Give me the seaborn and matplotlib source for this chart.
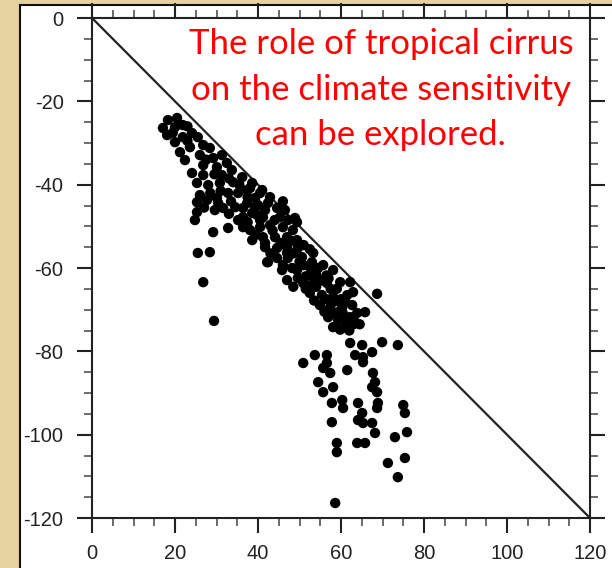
import matplotlib
matplotlib.use("Agg")
import matplotlib.pyplot as plt
import seaborn as sns
import pandas as pd
from matplotlib.ticker import MultipleLocator
from matplotlib.patches import Rectangle

# ---- data ----
x_vals = [
    17.1, 18.3, 20.5, 18.1, 20.0, 21.9, 20.0, 21.9, 24.1, 25.5, 21.2, 23.6, 26.8, 28.4, 22.4,
    26.0, 29.2, 31.3, 26.8, 30.1, 32.5, 24.1, 26.8, 31.3, 33.7, 25.3, 28.0, 30.8, 34.0,
    36.2, 38.6, 25.3, 27.7, 30.1, 32.8, 35.2, 37.4, 40.5, 24.8, 25.3, 29.6, 31.6, 30.4, 34.5,
    36.4, 39.3, 35.2, 36.4, 38.6, 40.5, 41.7, 29.2, 32.8, 38.6, 41.7, 25.5, 28.4, 26.8, 29.4, 42.2,
    37.4, 40.0, 42.4, 44.6, 36.4, 39.8, 41.2, 45.3, 47.2, 49.4, 38.1, 40.5, 42.9, 46.0, 48.4,
    41.2, 44.1, 47.0, 49.4, 41.7, 44.6, 47.0, 49.6, 42.4, 44.6, 47.2, 50.6, 45.8, 48.2, 50.9,
    53.0, 47.0, 49.6, 52.5, 53.7,
    47.0, 53.3, 46.0, 49.4, 52.5, 55.7, 58.1, 50.9, 56.6, 59.8, 62.2, 52.5, 55.4, 58.1, 61.5,
    62.9, 54.9, 57.4, 60.3, 62.7, 56.9, 59.3, 62.2, 63.9, 58.1, 61.0, 63.4, 65.8, 68.7,
    38.1, 39.3, 41.0, 42.9, 46.5, 48.9,
    54.0, 56.5, 51.5, 54.0, 57.5, 60.0, 53.5, 56.0, 59.5, 61.5, 59.8, 63.0, 48.5,
    33.0, 35.5, 37.5, 33.5, 31.0, 28.5, 27.0, 26.0, 33.0, 37.5, 39.5, 43.5, 45.5, 43.0, 48.5,
    51.0, 50.0, 51.5, 54.5, 55.5, 53.0, 57.0, 59.0, 56.5, 58.5, 61.0, 60.5, 58.0, 62.0, 64.5,
    46.0, 44.0, 48.0, 52.5, 23.0, 19.5, 23.0, 27.5, 29.5,
    62.2, 65.1, 63.4, 65.3, 67.5, 65.3, 69.9, 73.7, 50.9, 53.7, 56.6, 56.6, 55.7, 57.4, 61.5,
    54.5, 55.7, 58.1, 67.7, 68.2, 67.5, 68.7, 57.8, 60.3, 60.5, 64.1, 68.9, 68.7, 75.0, 75.4,
    65.1, 57.8, 64.1, 65.3, 67.5, 68.2, 75.9, 73.0, 59.0, 59.0, 63.9, 65.8, 71.3, 75.4, 73.7,
    58.6,
]
y_vals = [
    -26.4, -24.5, -24.0, -28.1, -26.2, -25.7, -29.8, -28.6, -27.6, -28.6, -32.2, -31.0, -30.5, -31.2, -34.1,
    -32.9, -33.6, -32.9, -35.3, -35.8, -34.8, -37.2, -37.7, -37.7, -36.5, -39.6, -40.1, -39.6, -39.4,
    -38.2, -39.6, -44.2, -43.7, -43.2, -42.0, -42.0, -41.3, -42.0, -48.5, -46.6, -46.1, -45.6, -44.4, -45.4,
    -45.6, -45.4, -48.5, -50.2, -46.8, -48.5, -46.1, -51.4, -50.4, -53.3, -54.0, -56.4, -56.2, -63.4, -72.7, -58.6,
    -44.4, -44.9, -44.4, -45.6, -47.8, -47.3, -47.8, -47.8, -48.5, -49.0, -50.9, -50.2, -49.7, -50.2, -50.9,
    -52.6, -52.6, -52.6, -53.3, -55.0, -55.2, -55.0, -55.2, -58.6, -57.6, -57.6, -57.4, -60.5, -60.0, -59.3,
    -58.6, -62.9, -62.4, -61.7, -62.9,
    -56.4, -56.4, -59.3, -60.5, -59.8, -59.3, -60.5, -63.6, -63.6, -63.4, -63.4, -66.0, -66.5, -67.0, -66.5,
    -65.8, -68.9, -69.4, -69.4, -68.9, -71.8, -72.5, -71.8, -70.8, -74.2, -74.2, -73.0, -70.6, -66.2,
    -40.8, -43.2, -41.3, -43.0, -46.1, -48.0,
    -61.5, -61.8, -65.0, -64.5, -65.0, -67.5, -67.8, -70.5, -70.5, -72.8, -74.8, -73.5, -64.5,
    -38.5, -40.0, -43.0, -44.0, -41.5, -42.0, -45.5, -42.5, -47.0, -49.0, -52.0, -51.0, -54.0, -56.5, -56.5,
    -54.5, -58.5, -62.0, -60.0, -63.0, -64.0, -62.5, -65.0, -67.5, -68.0, -68.0, -71.0, -70.8, -75.0, -73.5,
    -44.0, -48.5, -53.5, -55.5, -29.5, -27.5, -26.0, -34.0, -37.5,
    -78.0, -78.5, -80.9, -81.4, -80.2, -82.6, -77.8, -78.5, -82.8, -80.9, -80.9, -82.8, -84.0, -85.2, -84.5,
    -87.4, -89.8, -88.6, -85.2, -87.4, -88.6, -89.8, -92.4, -91.7, -93.6, -92.4, -92.4, -93.6, -92.9, -94.8,
    -94.8, -97.0, -96.5, -97.2, -97.2, -99.6, -99.4, -100.6, -102.0, -104.2, -102.0, -102.0, -106.8, -105.6, -110.2,
    -116.4,
]
ref_x = [0, 120]
ref_y = [0, -120]
x_ticks = [0, 20, 40, 60, 80, 100, 120]
y_ticks = [0, -20, -40, -60, -80, -100, -120]
annotation = "The role of tropical cirrus\non the climate sensitivity\ncan be explored."

df = pd.DataFrame({"x": x_vals, "y": y_vals})

sns.set_style("ticks")
plt.rcParams["font.family"] = ["Liberation Sans", "DejaVu Sans"]
plt.rcParams["axes.unicode_minus"] = False

W, H = 612, 568
fig = plt.figure(figsize=(W / 100, H / 100), dpi=100)
fig.patch.set_facecolor("#e6d1a0")

# white slide panel, behind the axes
panel = Rectangle((20 / W, -0.02), 1.0, (H - 5) / H + 0.02, transform=fig.transFigure,
                  facecolor="white", edgecolor="#111111", linewidth=1.5, zorder=-10)
fig.add_artist(panel)

ax = fig.add_axes([92 / W, 1 - 518 / H, (590 - 92) / W, (518 - 18) / H])
ax.set_zorder(5)
ax.set_facecolor("white")

ax.plot(ref_x, ref_y, color="#222222", linewidth=1.6, zorder=2)
sns.scatterplot(data=df, x="x", y="y", ax=ax, color="black", s=56, linewidth=0,
                edgecolor="none", zorder=3, legend=False)

ax.set_xlim(0, 120)
ax.set_ylim(-120, 0)
ax.set_xticks(x_ticks)
ax.set_yticks(y_ticks)
ax.xaxis.set_minor_locator(MultipleLocator(5))
ax.yaxis.set_minor_locator(MultipleLocator(5))
ax.set_xlabel("")
ax.set_ylabel("")

for sp in ax.spines.values():
    sp.set_visible(True)
    sp.set_linewidth(1.5)
    sp.set_color("#222222")

ax.tick_params(which="major", direction="out", length=10.5, width=1.5, color="#222222",
               top=True, right=True, labeltop=False, labelright=False,
               labelsize=14.5, labelcolor="#222222")
ax.tick_params(axis="y", which="major", pad=10)
ax.tick_params(axis="x", which="major", pad=8)
ax.tick_params(which="minor", direction="out", length=6, width=1.1, color="#444444",
               top=True, right=True)

ax.text(0.58, 0.979, annotation, transform=ax.transAxes, ha="center", va="top",
        multialignment="center", color="#ff0000", fontsize=25,
        family=["Lato", "DejaVu Sans"], linespacing=1.51, zorder=4)

fig.savefig("out.png", dpi=100, facecolor=fig.get_facecolor())
